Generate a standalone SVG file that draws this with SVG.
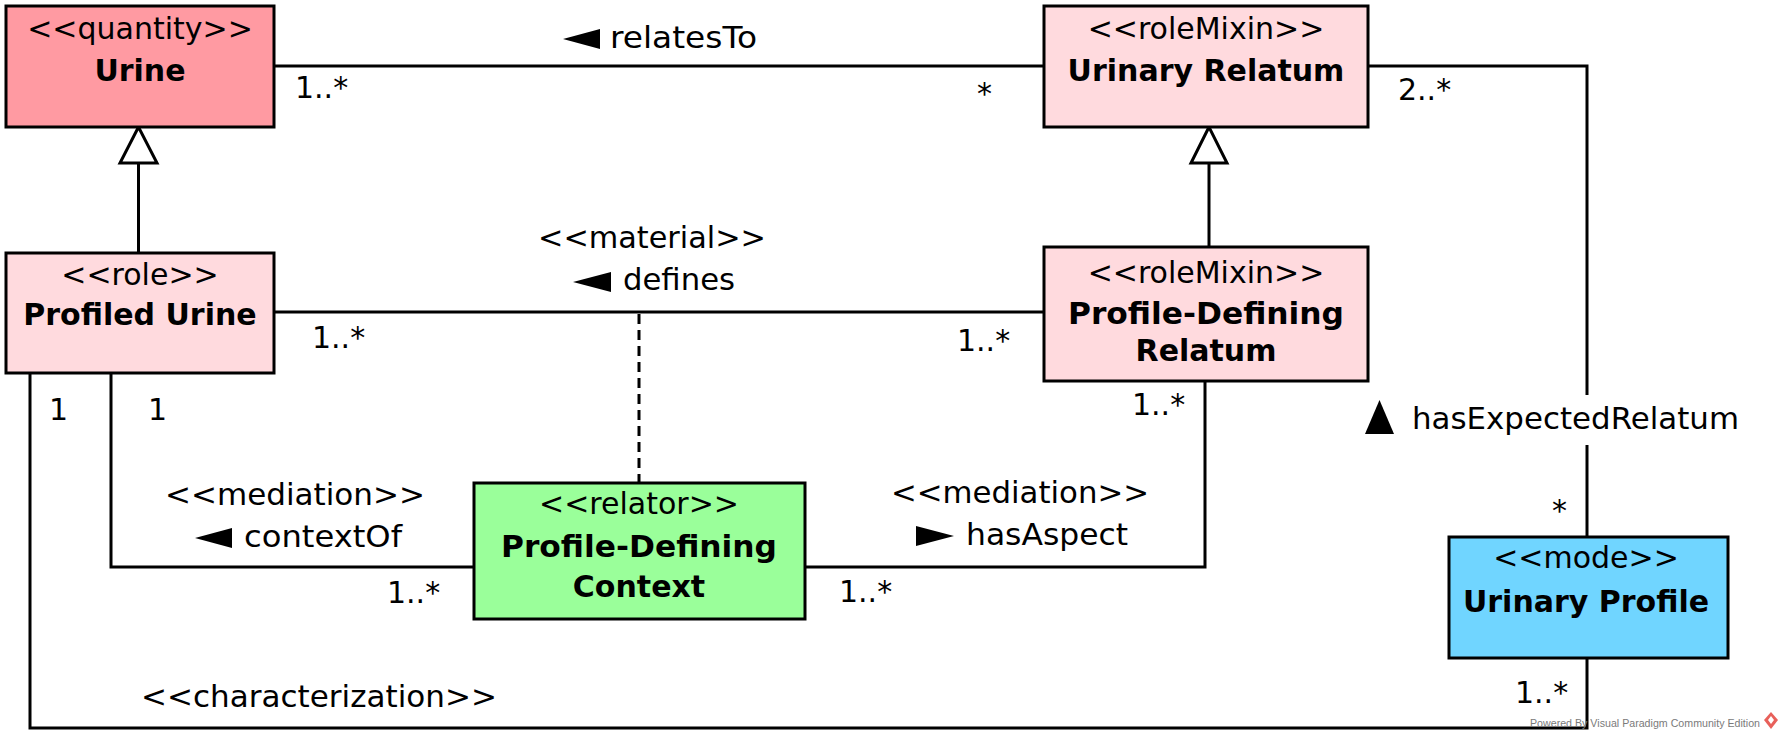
<svg xmlns="http://www.w3.org/2000/svg" width="1785" height="741" viewBox="0 0 1785 741">
<style>
  text { font-family: "DejaVu Sans", "Liberation Sans", sans-serif; font-size: 30px; fill: #000; }
  .b { font-weight: bold; }
  .m { text-anchor: middle; }
  .box { stroke: #000; stroke-width: 3; }
  .line { fill: none; stroke: #000; stroke-width: 3; }
  .dash { fill: none; stroke: #000; stroke-width: 3; stroke-dasharray: 10 6; }
  .gen { fill: #fff; stroke: #000; stroke-width: 3; stroke-linejoin: miter; }
  .tri { fill: #000; stroke: none; }
  .wm { font-family: "Liberation Sans", "DejaVu Sans", sans-serif; font-size: 10.5px; fill: #7a7a7a; }
</style>
<rect width="1785" height="741" fill="#fff"/>

<g id="connectors">
  <!-- relatesTo -->
  <path class="line" d="M274,66 H1044"/>
  <polygon class="tri" points="563,39 600,29 600,49"/>
  <text x="610" y="48" textLength="147" lengthAdjust="spacingAndGlyphs">relatesTo</text>
  <text x="295" y="98">1..*</text>
  <text x="977" y="104">*</text>

  <!-- generalization Profiled Urine -> Urine -->
  <path class="line" d="M138.5,253 V163"/>
  <polygon class="gen" points="138.5,127 120,163 157,163"/>

  <!-- generalization PDR -> Urinary Relatum -->
  <path class="line" d="M1209,247 V163"/>
  <polygon class="gen" points="1209,127 1191,163 1227,163"/>

  <!-- defines (material) -->
  <path class="line" d="M274,312 H1044"/>
  <text class="m" x="652" y="248" textLength="228" lengthAdjust="spacingAndGlyphs">&lt;&lt;material&gt;&gt;</text>
  <polygon class="tri" points="573,282 611,272 611,292"/>
  <text x="623" y="290" textLength="112" lengthAdjust="spacingAndGlyphs">defines</text>
  <text x="312" y="348">1..*</text>
  <text x="957" y="351">1..*</text>

  <!-- derivation dashed line -->
  <path class="dash" d="M639,314 V483"/>

  <!-- contextOf (mediation) -->
  <path class="line" d="M111,373 V567 H474"/>
  <text class="m" x="295" y="505" textLength="260" lengthAdjust="spacingAndGlyphs">&lt;&lt;mediation&gt;&gt;</text>
  <polygon class="tri" points="195,538 232,528 232,548"/>
  <text x="244" y="547" textLength="158" lengthAdjust="spacingAndGlyphs">contextOf</text>
  <text x="148" y="420">1</text>
  <text x="387" y="603">1..*</text>

  <!-- characterization -->
  <path class="line" d="M30,373 V728 H1587 V658"/>
  <text x="141" y="707" textLength="356" lengthAdjust="spacingAndGlyphs">&lt;&lt;characterization&gt;&gt;</text>
  <text x="49" y="420">1</text>
  <text x="1515" y="703">1..*</text>

  <!-- hasAspect (mediation) -->
  <path class="line" d="M805,567 H1205 V381"/>
  <text class="m" x="1020" y="503" textLength="258" lengthAdjust="spacingAndGlyphs">&lt;&lt;mediation&gt;&gt;</text>
  <polygon class="tri" points="954,536 916,526 916,546"/>
  <text x="966" y="545" textLength="162" lengthAdjust="spacingAndGlyphs">hasAspect</text>
  <text x="839" y="602">1..*</text>
  <text x="1132" y="415">1..*</text>

  <!-- hasExpectedRelatum -->
  <path class="line" d="M1368,66 H1587 V395"/>
  <path class="line" d="M1587,445 V537"/>
  <polygon class="tri" points="1379.5,400 1365,434 1394,434"/>
  <text x="1412" y="429" textLength="327" lengthAdjust="spacingAndGlyphs">hasExpectedRelatum</text>
  <text x="1398" y="100">2..*</text>
  <text x="1552" y="521">*</text>
</g>

<g id="urine">
  <rect class="box" x="6" y="6" width="268" height="121" fill="#FF9AA2"/>
  <text class="m" x="140" y="39">&lt;&lt;quantity&gt;&gt;</text>
  <text class="m b" x="140" y="81">Urine</text>
</g>

<g id="urinary-relatum">
  <rect class="box" x="1044" y="6" width="324" height="121" fill="#FFDADE"/>
  <text class="m" x="1206" y="39">&lt;&lt;roleMixin&gt;&gt;</text>
  <text class="m b" x="1206" y="81">Urinary Relatum</text>
</g>

<g id="profiled-urine">
  <rect class="box" x="6" y="253" width="268" height="120" fill="#FFDADE"/>
  <text class="m" x="140" y="285">&lt;&lt;role&gt;&gt;</text>
  <text class="m b" x="140" y="325">Profiled Urine</text>
</g>

<g id="profile-defining-relatum">
  <rect class="box" x="1044" y="247" width="324" height="134" fill="#FFDADE"/>
  <text class="m" x="1206" y="283">&lt;&lt;roleMixin&gt;&gt;</text>
  <text class="m b" x="1206" y="324" textLength="276" lengthAdjust="spacingAndGlyphs">Profile-Defining</text>
  <text class="m b" x="1206" y="361">Relatum</text>
</g>

<g id="profile-defining-context">
  <rect class="box" x="474" y="483" width="331" height="136" fill="#9AFF9A"/>
  <text class="m" x="639" y="514">&lt;&lt;relator&gt;&gt;</text>
  <text class="m b" x="639" y="557" textLength="276" lengthAdjust="spacingAndGlyphs">Profile-Defining</text>
  <text class="m b" x="639" y="597">Context</text>
</g>

<g id="urinary-profile">
  <rect class="box" x="1449" y="537" width="279" height="121" fill="#70D5FF"/>
  <text class="m" x="1586" y="568">&lt;&lt;mode&gt;&gt;</text>
  <text class="m b" x="1586" y="612">Urinary Profile</text>
</g>

<g id="watermark">
  <text class="wm" x="1530" y="727" textLength="230" lengthAdjust="spacingAndGlyphs">Powered By Visual Paradigm Community Edition</text>
  <polygon points="1771,712 1778,720 1771,729 1764,720" fill="#E8605A"/>
  <polygon points="1771,716 1774,720 1771,724 1768,720" fill="#fff"/>
</g>
</svg>
